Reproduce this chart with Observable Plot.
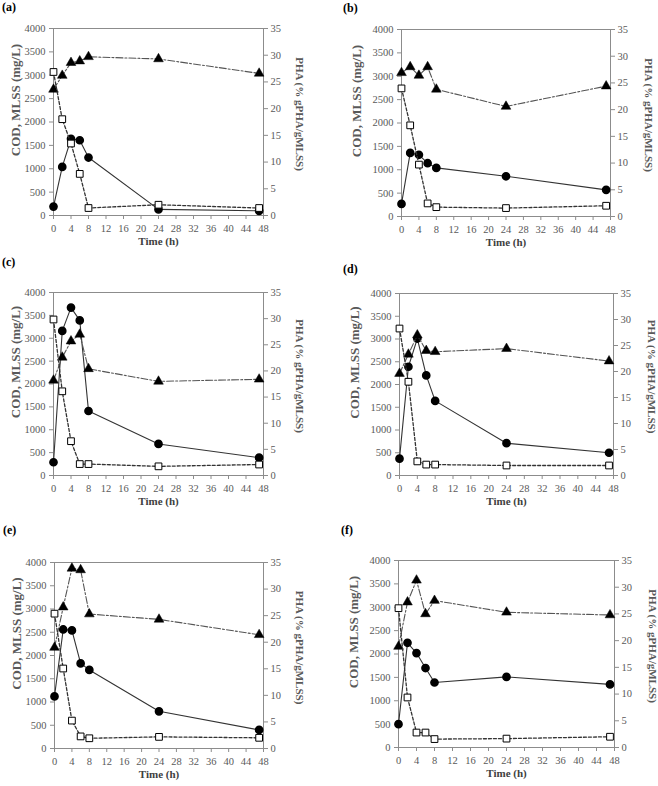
<!DOCTYPE html>
<html>
<head>
<meta charset="utf-8">
<script src="https://cdn.jsdelivr.net/npm/d3@7"></script>
<script src="https://cdn.jsdelivr.net/npm/@observablehq/plot@0.6"></script>
<style>
  html, body { margin: 0; padding: 0; background: #fff; }
  #root { position: relative; width: 658px; height: 786px; background: #fff; overflow: hidden; }
  .plab { position: absolute; font-family: "Liberation Serif", serif; font-weight: bold; font-size: 12px; color: #000; line-height: 1; }
  #root svg { position: absolute; }
</style>
</head>
<body>
<div id="root"></div>
<script>
// ---- data ----
const times = [0, 2, 4, 6, 8, 24, 47];
const panelLabels = ["(a)", "(b)", "(c)", "(d)", "(e)", "(f)"];
const xTicks = [0, 4, 8, 12, 16, 20, 24, 28, 32, 36, 40, 44, 48];
const leftTicks = [0, 500, 1000, 1500, 2000, 2500, 3000, 3500, 4000];
const rightTicks = [0, 5, 10, 15, 20, 25, 30, 35];

const codA  = [3070, 2060, 1540, 890, 160, 230, 160];
const mlssA = [190, 1040, 1640, 1610, 1240, 130, 100];
const phaA  = [23.6, 26.2, 28.6, 28.9, 29.7, 29.3, 26.6];

const codB  = [2740, 1950, 1110, 280, 200, 180, 230];
const mlssB = [270, 1360, 1320, 1140, 1040, 860, 570];
const phaB  = [26.9, 28.0, 26.4, 28.0, 23.8, 20.6, 24.4];

const codC  = [3410, 1840, 750, 250, 250, 200, 240];
const mlssC = [290, 3160, 3670, 3390, 1410, 690, 390];
const phaC  = [18.2, 22.6, 25.7, 27.0, 20.4, 18.0, 18.4];

const codD  = [3230, 2060, 310, 240, 240, 220, 220];
const mlssD = [370, 2390, 3010, 2200, 1640, 710, 500];
const phaD  = [19.6, 23.3, 27.0, 24.0, 23.8, 24.4, 22.0];

const codE  = [2900, 1720, 600, 260, 220, 250, 230];
const mlssE = [1120, 2560, 2540, 1830, 1690, 800, 400];
const phaE  = [19.0, 26.6, 33.9, 33.6, 25.3, 24.3, 21.4];

const codF  = [2980, 1070, 320, 320, 180, 190, 230];
const mlssF = [500, 2240, 2020, 1700, 1390, 1510, 1350];
const phaF  = [18.9, 27.2, 31.3, 25.0, 27.5, 25.3, 24.8];

const leftTitle = "COD, MLSS (mg/L)";
const rightTitle = "PHA (% gPHA/gMLSS)";
const xTitle = "Time (h)";

const series = [
  [codA, mlssA, phaA], [codB, mlssB, phaB], [codC, mlssC, phaC],
  [codD, mlssD, phaD], [codE, mlssE, phaE], [codF, mlssF, phaF]
];

// ---- layout (plot-area boxes in page pixels) ----
const boxes = [
  {l: 53, r: 263, t: 28, b: 215, ld: 38, rd: 36, lx: 2, ly: 1},
  {l: 401, r: 610, t: 29, b: 216, ld: 45, rd: 38, lx: 343, ly: 2},
  {l: 53, r: 263, t: 292, b: 475, ld: 38, rd: 36, lx: 2, ly: 256},
  {l: 399, r: 613, t: 293, b: 475, ld: 45, rd: 38, lx: 343, ly: 263},
  {l: 54, r: 263, t: 562, b: 748, ld: 38, rd: 36, lx: 3, ly: 524},
  {l: 398, r: 614, t: 560, b: 747, ld: 45, rd: 38, lx: 341, ly: 524}
];

const FONT = "Liberation Serif, serif";
const K = 4000 / 35;
const root = document.getElementById("root");

series.forEach(([cod, mlss, pha], i) => {
  const bx = boxes[i];
  const ml = 60, mr = 60, mt = 10, mb = 45;
  const W = bx.r - bx.l, H = bx.b - bx.t;
  const rows = times.map((t, j) => ({t, cod: cod[j], mlss: mlss[j], pha: pha[j] * K}));
  const chart = Plot.plot({
    width: ml + W + mr, height: mt + H + mb,
    marginLeft: ml, marginRight: mr, marginTop: mt, marginBottom: mb,
    style: {fontFamily: FONT, fontSize: "10.5px", color: "#595959", background: "transparent", overflow: "visible"},
    x: {domain: [0, 48]},
    y: {domain: [0, 4000]},
    marks: [
      Plot.frame({stroke: "#8c8c8c", strokeWidth: 1}),
      Plot.axisX({ticks: xTicks, tickSize: 4, tickPadding: 5, stroke: "#8c8c8c", fill: "#595959", tickFormat: d => String(d), label: null}),
      Plot.axisY({ticks: leftTicks, anchor: "left", tickSize: 4, tickPadding: 4, stroke: "#8c8c8c", fill: "#595959", tickFormat: d => String(d), label: null}),
      Plot.axisY(rightTicks.map(v => v * K), {anchor: "right", tickSize: 4, tickPadding: 3, stroke: "#8c8c8c", fill: "#595959",
        tickFormat: d => String(Math.round(d / K)), label: null}),
      Plot.text([leftTitle], {frameAnchor: "left", textAnchor: "middle", rotate: -90, dx: -bx.ld, dy: -22, text: d => d, fontWeight: "bold", fontSize: 13, fill: "#595959"}),
      Plot.text([rightTitle], {frameAnchor: "right", textAnchor: "middle", rotate: 90, dx: bx.rd, dy: -8, text: d => d, fontWeight: "bold", fontSize: 11, fill: "#595959"}),
      Plot.text([xTitle], {frameAnchor: "bottom", textAnchor: "middle", dy: 29, text: d => d, fontWeight: "bold", fontSize: 11, fill: "#404040"}),
      // MLSS
      Plot.line(rows, {x: "t", y: "mlss", stroke: "#333", strokeWidth: 1.1}),
      Plot.dot(rows, {x: "t", y: "mlss", r: 3.6, fill: "#000", stroke: "#000"}),
      // PHA (right axis, mapped)
      Plot.line(rows, {x: "t", y: "pha", stroke: "#555", strokeWidth: 1.1, strokeDasharray: "7,2,2,2"}),
      Plot.dot(rows, {x: "t", y: "pha", symbol: "triangle", r: 3.6, fill: "#000", stroke: "#000", strokeWidth: 0.5}),
      // COD
      Plot.line(rows, {x: "t", y: "cod", stroke: "#333", strokeWidth: 1.3, strokeDasharray: "3,2"}),
      Plot.dot(rows, {x: "t", y: "cod", symbol: "square", r: 3.8, fill: "#fff", stroke: "#000", strokeWidth: 1})
    ]
  });
  chart.style.left = (bx.l - ml) + "px";
  chart.style.top = (bx.t - mt) + "px";
  root.appendChild(chart);
  const lab = document.createElement("div");
  lab.className = "plab";
  lab.textContent = panelLabels[i];
  lab.style.left = bx.lx + "px";
  lab.style.top = bx.ly + "px";
  root.appendChild(lab);
});
</script>
</body>
</html>
